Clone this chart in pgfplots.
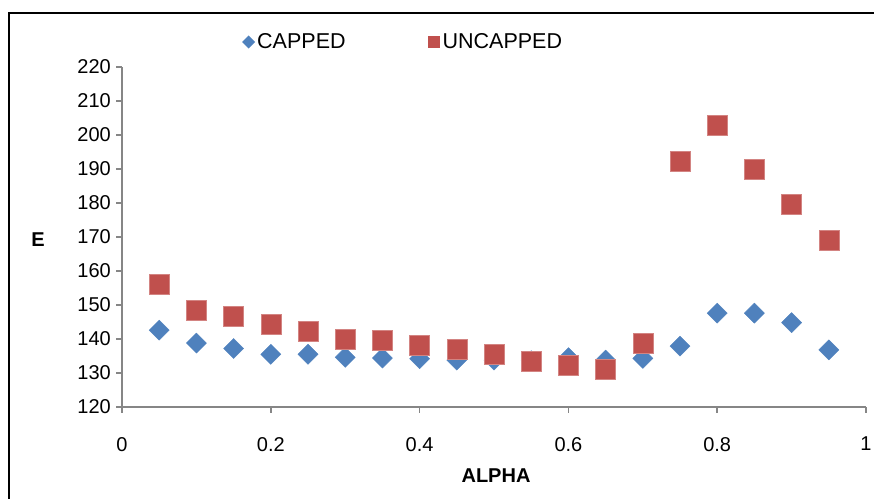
\documentclass[border=0pt]{standalone}
\usepackage{fontspec}
\setmainfont{Liberation Sans}
\usepackage{pgfplots}
\pgfplotsset{compat=1.18}

\definecolor{capblue}{RGB}{79,129,189}
\definecolor{uncapred}{RGB}{192,80,77}
\definecolor{axgray}{RGB}{134,134,134}

\begin{document}
\begin{tikzpicture}[x=1bp,y=1bp]
\useasboundingbox (0,0) rectangle (874,499);
% outer frame (only left and top edges fall inside the picture)
\draw[line width=1.8bp,black] (8.6,-5) -- (8.6,486.2) -- (880,486.2);
\begin{axis}[
  at={(122bp,92bp)}, anchor=south west,
  scale only axis, width=744bp, height=340bp,
  xmin=0, xmax=1, ymin=120, ymax=220,
  xtick={0,0.2,...,1}, ytick={120,130,...,220},
  axis x line*=bottom, axis y line*=left,
  axis line style={draw=axgray, line width=1.6bp, -},
  every tick/.style={draw=axgray, line width=1.6bp},
  tick align=outside, major tick length=6bp,
  font=\fontsize{20bp}{24bp}\selectfont,
  /pgf/number format/assume math mode=true,
  xticklabel style={inner sep=0pt, anchor=north, yshift=-24bp},
  yticklabel style={inner sep=0pt, anchor=east, xshift=-5bp},
  xlabel={\textbf{ALPHA}}, ylabel={\textbf{E}},
  x label style={at={(axis description cs:0.5027,-0.203)}, anchor=center},
  y label style={at={(axis description cs:-0.1129,0.491)}, anchor=center, rotate=-90},
  legend columns=2,
  legend style={at={(axis description cs:0.1613,1.0735)}, anchor=west,
    draw=none, fill=none, inner sep=0pt,
    font=\fontsize{21.5bp}{24bp}\selectfont,
    nodes={inner xsep=2bp, inner ysep=0pt},
    /tikz/every odd column/.append style={column sep=0bp},
    /tikz/every even column/.append style={column sep=80bp}},
]
\addplot[only marks, mark=square*, mark size=7.1bp, color=capblue,
  mark options={rotate=45, fill=capblue, draw=capblue},
  legend image code/.code={\path[draw=none, fill=none] (-6.5bp,-6.5bp) rectangle (6.5bp,6.5bp);
    \fill[capblue, draw=none, rotate=45] (-4.6bp,-4.6bp) rectangle (4.6bp,4.6bp);}]
  coordinates {
  (0.05,142.6) (0.10,138.8) (0.15,137.2) (0.20,135.5) (0.25,135.5)
  (0.30,134.6) (0.35,134.4) (0.40,134.2) (0.45,133.8) (0.50,133.8)
  (0.55,133.6) (0.60,134.5) (0.65,133.8) (0.70,134.3) (0.75,137.9)
  (0.80,147.6) (0.85,147.6) (0.90,144.8) (0.95,136.8)
  };
\addlegendentry{CAPPED}
\addplot[only marks, mark=square*, mark size=10bp, color=uncapred,
  mark options={fill=uncapred, draw=uncapred!70!white, line width=0.6bp},
  legend image code/.code={\path[draw=none, fill=none] (-6.5bp,-6.5bp) rectangle (6.5bp,6.5bp);
    \fill[uncapred, draw=none] (-6.2bp,-6.2bp) rectangle (6.2bp,6.2bp);}]
  coordinates {
  (0.05,156.2) (0.10,148.3) (0.15,146.7) (0.20,144.2) (0.25,142.4)
  (0.30,139.9) (0.35,139.7) (0.40,138.1) (0.45,136.9) (0.50,135.6)
  (0.55,133.5) (0.60,132.3) (0.65,131.2) (0.70,138.7) (0.75,192.3)
  (0.80,202.9) (0.85,189.9) (0.90,179.6) (0.95,169.0)
  };
\addlegendentry{UNCAPPED}
\end{axis}
\end{tikzpicture}
\end{document}
